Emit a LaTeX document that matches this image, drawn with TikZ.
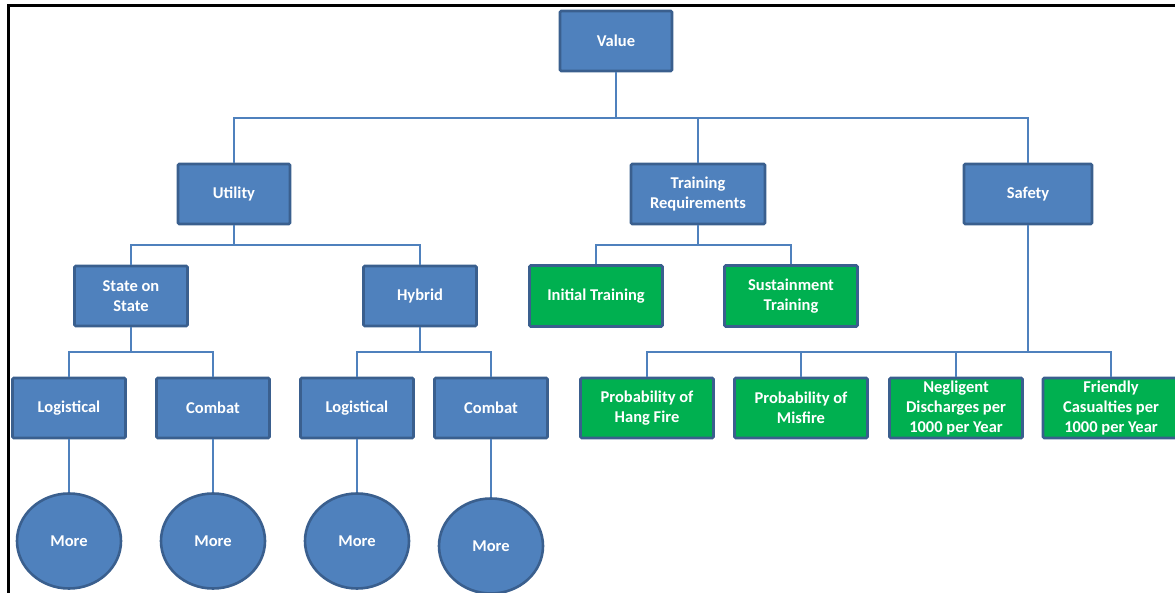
\documentclass[tikz,border=0pt]{standalone}
\usepackage{fontspec}
\setmainfont{Carlito}
\usetikzlibrary{shapes.geometric}
\definecolor{boxblue}{HTML}{4F81BD}
\definecolor{edgeblue}{HTML}{3A5F8E}
\definecolor{boxgreen}{HTML}{00B050}
\begin{document}
\begin{tikzpicture}[x=1pt,y=-1pt,
  box/.style={draw=edgeblue,line width=2.6pt,fill=boxblue,rounded corners=1.2pt,
    minimum width=#1,minimum height=60pt,inner sep=1pt,text=white,
    font=\bfseries\fontsize{16.5}{20}\selectfont,align=center},
  box/.default=112pt,
  gbox/.style={box=133pt,fill=boxgreen},
  more/.style={ellipse,draw=edgeblue,line width=2.6pt,fill=boxblue,
    minimum width=104pt,minimum height=95pt,text=white,
    font=\bfseries\fontsize{16.5}{20}\selectfont},
  link/.style={draw=boxblue,line width=1.2pt}]
\useasboundingbox (0,0) rectangle (1175,593);
\clip (0,0) rectangle (1175,593);
% page frame
\draw[line width=3pt] (8,600) -- (8,5.5) -- (1180,5.5);
% level 0
\node[box] (value) at (616,41) {Value};
% level 1
\node[box] (utility) at (234,194) {Utility};
\node[box=134pt] (train) at (698,194) {Training\\Requirements};
\node[box=128pt] (safety) at (1028,194) {Safety};
% level 2
\node[box=113pt] (sos) at (131,296) {State on\\State};
\node[box=113pt] (hybrid) at (420,296) {Hybrid};
\node[gbox,minimum height=61pt] (init) at (596,296) {Initial Training};
\node[gbox,minimum height=61pt] (sust) at (791,296) {Sustainment\\Training};
% level 3
\node[box=113pt] (log1) at (69,408) {Logistical};
\node[box=113pt] (com1) at (213,408) {Combat};
\node[box=113pt] (log2) at (357,408) {Logistical};
\node[box=113pt] (com2) at (491,408) {Combat};
\node[gbox] (hang) at (647,408) {Probability of\\Hang Fire};
\node[gbox] (mis) at (801,408) {Probability of\\Misfire};
\node[gbox] (neg) at (956,408) {Negligent\\Discharges per\\1000 per Year};
\node[gbox,minimum width=136pt] (fri) at (1111,408) {Friendly\\Casualties per\\1000 per Year};
% level 4
\node[more] (m1) at (69,541) {More};
\node[more] (m2) at (213,541) {More};
\node[more] (m3) at (357,541) {More};
\node[more] (m4) at (491,546) {More};
% connectors
\draw[link] (value.south) -- (616,118) coordinate (b0);
\draw[link] (utility.north) |- (b0) -| (safety.north);
\draw[link] (train.north) -- (train.north |- b0);
\draw[link] (utility.south) -- (234,245) coordinate (b1);
\draw[link] (sos.north) |- (b1) -| (hybrid.north);
\draw[link] (train.south) -- (698,245) coordinate (b2);
\draw[link] (init.north) |- (b2) -| (sust.north);
\draw[link] (safety.south) -- (1028,352) coordinate (b3);
\draw[link] (hang.north) |- (b3) -| (fri.north);
\draw[link] (mis.north) -- (mis.north |- b3);
\draw[link] (neg.north) -- (neg.north |- b3);
\draw[link] (sos.south) -- (131,352) coordinate (b4);
\draw[link] (log1.north) |- (b4) -| (com1.north);
\draw[link] (hybrid.south) -- (420,352) coordinate (b5);
\draw[link] (log2.north) |- (b5) -| (com2.north);
\draw[link] (log1) -- (m1);
\draw[link] (com1) -- (m2);
\draw[link] (log2) -- (m3);
\draw[link] (com2) -- (m4);
\end{tikzpicture}
\end{document}
